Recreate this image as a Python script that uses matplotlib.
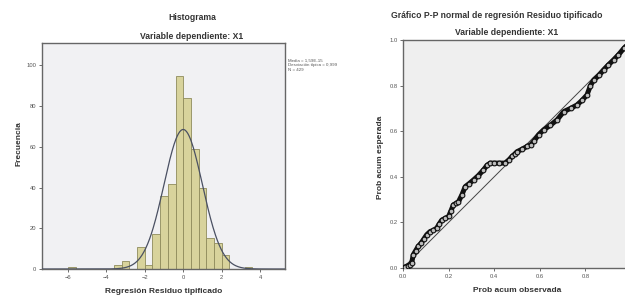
import numpy as np
import matplotlib
matplotlib.use("Agg")
import matplotlib.pyplot as plt

# ---------------------------------------------------------------- data
# histogram of standardized residuals (bin width 0.4)
bin_starts = [-6.0, -3.6, -3.2, -2.4, -2.0, -1.6, -1.2, -0.8, -0.4,
              0.0, 0.4, 0.8, 1.2, 1.6, 2.0, 3.2]
bin_counts = [1, 2, 4, 11, 2, 17, 36, 42, 95, 84, 59, 40, 15, 13, 7, 1]
bin_width = 0.4
res_mean = 1.59e-15
res_std = 0.999
res_n = 429

hist_xticks = [-6, -4, -2, 0, 2, 4]
hist_yticks = [0, 20, 40, 60, 80, 100]

# P-P plot: observed vs expected cumulative probability
pp_obs = [0.0, 0.01, 0.02, 0.03, 0.038, 0.045, 0.055, 0.067, 0.08, 0.09,
          0.104, 0.119, 0.133, 0.148, 0.16, 0.17, 0.185, 0.2, 0.21, 0.221,
          0.232, 0.243, 0.258, 0.273, 0.29, 0.31, 0.33, 0.353, 0.368, 0.382,
          0.40, 0.42, 0.448, 0.465, 0.478, 0.49, 0.5, 0.52, 0.544, 0.56,
          0.573, 0.595, 0.617, 0.645, 0.676, 0.705, 0.735, 0.763, 0.785,
          0.807, 0.822, 0.837, 0.86, 0.88, 0.90, 0.924, 0.945, 0.969,
          0.985, 1.0]
pp_exp = [0.0, 0.005, 0.01, 0.015, 0.022, 0.058, 0.075, 0.095, 0.11, 0.125,
          0.146, 0.16, 0.165, 0.175, 0.195, 0.21, 0.218, 0.226, 0.25, 0.277,
          0.283, 0.29, 0.32, 0.357, 0.37, 0.387, 0.405, 0.43, 0.45, 0.46,
          0.46, 0.46, 0.46, 0.475, 0.489, 0.50, 0.51, 0.52, 0.533, 0.54,
          0.555, 0.585, 0.606, 0.625, 0.65, 0.686, 0.70, 0.715, 0.735,
          0.759, 0.80, 0.825, 0.845, 0.869, 0.89, 0.913, 0.935, 0.964,
          0.98, 1.0]
pp_ticks = [0.0, 0.2, 0.4, 0.6, 0.8, 1.0]

# ---------------------------------------------------------------- style
plt.rcParams["font.family"] = ["Liberation Sans", "DejaVu Sans"]
TXT = "#333333"
TICK = "#555555"
SPINE = "#666666"

fig = plt.figure(figsize=(6.25, 3.0), dpi=100)
fig.patch.set_facecolor("white")


def style_axes(ax, bg):
    ax.set_facecolor(bg)
    for s in ax.spines.values():
        s.set_color(SPINE)
        s.set_linewidth(1.0)
    ax.tick_params(direction="out", length=2.5, width=0.6, colors=TICK,
                   labelsize=4.2, pad=1.5)


# ---------------------------------------------------------------- histogram
ax1 = fig.add_axes([0.0672, 0.1033, 0.3888, 0.7533])
style_axes(ax1, "#f1f1f3")
ax1.bar(bin_starts, bin_counts, width=bin_width, align="edge",
        color="#d8d39c", edgecolor="#8f8b5c", linewidth=0.6, zorder=2)
xs = np.linspace(-7.4, 5.4, 400)
curve = res_n * bin_width * np.exp(-0.5 * ((xs - res_mean) / res_std) ** 2) \
    / (res_std * np.sqrt(2 * np.pi))
ax1.plot(xs, curve, color="#4a5062", linewidth=0.9, zorder=3)
ax1.set_xlim(-7.35, 5.3)
ax1.set_ylim(0, 111)
ax1.set_xticks(hist_xticks)
ax1.set_yticks(hist_yticks)

fig.text(0.307, 0.94, "Histograma", ha="center", va="center",
         fontsize=6.2, fontweight="bold", color=TXT)
fig.text(0.307, 0.877, "Variable dependiente: X1", ha="center", va="center",
         fontsize=6.2, fontweight="bold", color=TXT)
fig.text(0.031, 0.523, "Frecuencia", ha="center", va="center", rotation=90,
         fontsize=6.0, fontweight="bold", color=TXT)
fig.text(0.262, 0.027, "Regresión Residuo tipificado", ha="center",
         va="center", fontsize=6.0, fontweight="bold", color=TXT)
fig.text(0.461, 0.805,
         "Media = 1,59E-15\nDesviación típica = 0,999\nN = %d" % res_n,
         ha="left", va="top", fontsize=3.2, color="#555555", linespacing=1.25)

# ---------------------------------------------------------------- P-P plot
# axes deliberately runs a few pixels past the right edge, as in the source
ax2 = fig.add_axes([0.6448, 0.1067, 0.3648, 0.76])
style_axes(ax2, "#efefef")
ax2.plot([0, 1], [0, 1], color="#444444", linewidth=0.7, zorder=2)
ax2.plot(pp_obs, pp_exp, color="#111111", linewidth=3.6, zorder=3,
         solid_capstyle="round")
ax2.plot(pp_obs, pp_exp, linestyle="none", marker="o", markersize=3.4,
         markerfacecolor="#bdbdbd", markeredgecolor="#111111",
         markeredgewidth=0.8, zorder=4)
ax2.set_xlim(0, 1)
ax2.set_ylim(0, 1)
ax2.set_xticks(pp_ticks)
ax2.set_yticks(pp_ticks)
ax2.set_xticklabels(["%.1f" % t if t < 1 else "" for t in pp_ticks])
ax2.set_yticklabels(["%.1f" % t for t in pp_ticks])

fig.text(0.795, 0.95, "Gráfico P-P normal de regresión Residuo tipificado",
         ha="center", va="center", fontsize=6.2, fontweight="bold", color=TXT)
fig.text(0.811, 0.893, "Variable dependiente: X1", ha="center", va="center",
         fontsize=6.2, fontweight="bold", color=TXT)
fig.text(0.608, 0.477, "Prob acum esperada", ha="center", va="center",
         rotation=90, fontsize=6.0, fontweight="bold", color=TXT)
fig.text(0.827, 0.03, "Prob acum observada", ha="center", va="center",
         fontsize=6.0, fontweight="bold", color=TXT)

fig.savefig("out.png", dpi=100)
